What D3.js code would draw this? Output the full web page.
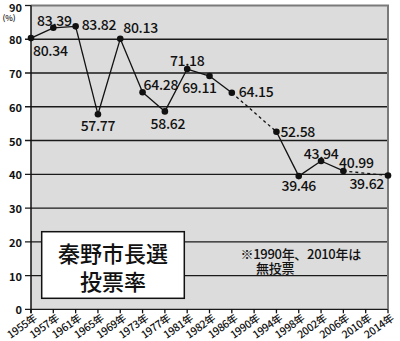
<!DOCTYPE html>
<html>
<head>
<meta charset="utf-8">
<script src="https://cdn.jsdelivr.net/npm/d3@7"></script>
<style>
  body { margin: 0; background: #fff; }
  svg { display: block; }
  text { font-family: "Noto Sans CJK JP", "Liberation Sans", sans-serif; fill: #111; }
</style>
</head>
<body>
<svg id="chart" width="400" height="341"></svg>
<script>

// election years (categories on the x axis)
var years = ["1955年", "1957年", "1961年", "1965年", "1969年", "1973年", "1977年", "1981年",
	"1982年", "1986年", "1990年", "1994年", "1998年", "2002年", "2006年", "2010年", "2014年"];

// turnout in %, null = no vote held
var turnout = [80.34, 83.39, 83.82, 57.77, 80.13, 64.28, 58.62, 71.18,
	69.11, 64.15, null, 52.58, 39.46, 43.94, 40.99, null, 39.62];

var yTicks = [0, 10, 20, 30, 40, 50, 60, 70, 80, 90];

var title = ["秦野市長選", "投票率"];
var note = ["※1990年、2010年は", "無投票"];

function renderChart(element) {

	var svg = d3.select(element);

	var left = 31, right = 388, top = 5.5, bottom = 309.3;

	var x = d3.scalePoint()
		.domain(years)
		.range([left, right]);

	var y = d3.scaleLinear()
		.domain([0, 90])
		.range([bottom, top]);

	// label placement for each point: [anchor, dx, dy]
	var labelPos = [
		["start", 2, 12], ["middle", 1, -8], ["start", 6, -2], ["middle", 0, 11],
		["start", 3, -12], ["start", 1, -8], ["middle", 3, 12], ["middle", 0, -9],
		["middle", -10, 11], ["start", 7, -2], null, ["start", 4, -1],
		["middle", 0, 9], ["middle", 0, -8], ["middle", 13, -9], null, ["end", -4, 7]
	];

	// plot background
	svg.append("rect")
		.attr("x", left)
		.attr("y", top)
		.attr("width", right - left)
		.attr("height", bottom - top)
		.attr("fill", "#dcdcdc");

	// gridlines (not the top one, that is the frame)
	svg.append("g")
		.selectAll("line")
		.data(yTicks.filter(d => d < 90))
		.enter()
		.append("line")
		.attr("x1", 25)
		.attr("x2", right)
		.attr("y1", d => y(d))
		.attr("y2", d => y(d))
		.attr("stroke", "#1a1a1a")
		.attr("stroke-width", 1.3);

	// frame top and right
	svg.append("path")
		.attr("d", "M" + left + "," + y(90) + "H" + right + "V" + bottom)
		.attr("fill", "none")
		.attr("stroke", "#7a7a7a")
		.attr("stroke-width", 2);

	svg.append("line")
		.attr("x1", 25).attr("x2", left)
		.attr("y1", y(90)).attr("y2", y(90))
		.attr("stroke", "#1a1a1a")
		.attr("stroke-width", 1.3);

	// left axis line
	svg.append("line")
		.attr("x1", left).attr("x2", left)
		.attr("y1", y(90)).attr("y2", bottom + 4)
		.attr("stroke", "#111")
		.attr("stroke-width", 1.5);

	// y tick labels
	svg.append("g")
		.selectAll("text")
		.data(yTicks)
		.enter()
		.append("text")
		.attr("x", 22)
		.attr("y", d => d == 90 ? y(d) + 1 : y(d))
		.attr("text-anchor", "end")
		.attr("dominant-baseline", "central")
		.attr("font-size", "11px")
		.attr("font-weight", "bold")
		.text(d => d);

	svg.append("text")
		.attr("x", 9)
		.attr("y", 17)
		.attr("text-anchor", "middle")
		.attr("dominant-baseline", "central")
		.attr("font-size", "8px")
		.attr("font-weight", "500")
		.text("(%)");

	// x ticks + labels
	var xg = svg.append("g")
		.selectAll("g")
		.data(years)
		.enter()
		.append("g")
		.attr("transform", d => "translate(" + x(d) + "," + bottom + ")");

	xg.append("line")
		.attr("y1", 0)
		.attr("y2", 4)
		.attr("stroke", "#111")
		.attr("stroke-width", 1.3);

	xg.append("text")
		.attr("transform", "translate(4,7) rotate(-35)")
		.attr("text-anchor", "end")
		.attr("dominant-baseline", "central")
		.attr("font-size", "10.5px")
		.attr("font-weight", "500")
		.attr("letter-spacing", "-0.3px")
		.text(d => d);

	// lines: solid between consecutive held votes, dashed across skipped years
	var pts = years.map((yr, i) => ({ yr: yr, v: turnout[i], i: i }))
		.filter(d => d.v !== null);

	var segs = d3.pairs(pts).map(p => ({ a: p[0], b: p[1], dashed: p[1].i - p[0].i > 1 }));

	svg.append("g")
		.selectAll("line")
		.data(segs)
		.enter()
		.append("line")
		.attr("x1", d => x(d.a.yr))
		.attr("y1", d => y(d.a.v))
		.attr("x2", d => x(d.b.yr))
		.attr("y2", d => y(d.b.v))
		.attr("stroke", "#111")
		.attr("stroke-width", 1.3)
		.attr("stroke-dasharray", d => d.dashed ? "3,3" : null);

	svg.append("g")
		.selectAll("circle")
		.data(pts)
		.enter()
		.append("circle")
		.attr("cx", d => x(d.yr))
		.attr("cy", d => y(d.v))
		.attr("r", 3.3)
		.attr("fill", "#111");

	// value labels
	svg.append("g")
		.selectAll("text")
		.data(pts)
		.enter()
		.append("text")
		.attr("x", d => x(d.yr) + labelPos[d.i][1])
		.attr("y", d => y(d.v) + labelPos[d.i][2])
		.attr("text-anchor", d => labelPos[d.i][0])
		.attr("dominant-baseline", "central")
		.attr("font-size", "14px")
		.attr("font-weight", "500")
		.attr("letter-spacing", "-0.3px")
		.text(d => d.v.toFixed(2));

	// title box
	svg.append("rect")
		.attr("x", 41.7)
		.attr("y", 231.7)
		.attr("width", 142.6)
		.attr("height", 66.6)
		.attr("fill", "#fff")
		.attr("stroke", "#111")
		.attr("stroke-width", 1.5);

	svg.append("g")
		.selectAll("text")
		.data(title)
		.enter()
		.append("text")
		.attr("x", 113)
		.attr("y", (d, i) => 251.5 + i * 28.5)
		.attr("text-anchor", "middle")
		.attr("dominant-baseline", "central")
		.attr("font-size", "22px")
		.attr("font-weight", "500")
		.text(d => d);

	// note
	svg.append("g")
		.selectAll("text")
		.data(note)
		.enter()
		.append("text")
		.attr("x", (d, i) => i == 0 ? 240.5 : 256)
		.attr("y", (d, i) => 253 + i * 14)
		.attr("dominant-baseline", "central")
		.attr("font-size", "13px")
		.attr("font-weight", "500")
		.attr("letter-spacing", "-0.3px")
		.text(d => d);

}

renderChart("#chart");
</script>
</body>
</html>
